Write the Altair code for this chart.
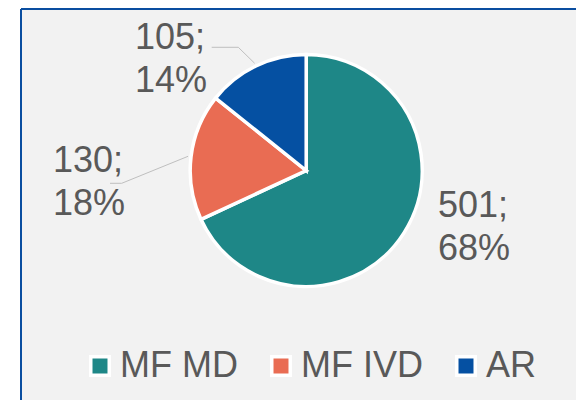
import math
import altair as alt
import pandas as pd

# ---- data ----
categories = ["MF MD", "MF IVD", "AR"]
values = [501, 130, 105]
colors = ["#1E8787", "#E96C53", "#0550A2"]

# ---- layout / style ----
PAD_L, PAD_T = 13, 1
W, H = 555, 391
CX, CY = 285.2, 161.5          # pie centre inside the view
R = 116                        # pie radius
LR = 130                       # label anchor radius
FONT = "Liberation Sans"
TXT = "#595959"
FS = 36
BORDER = "#0A4EA0"

df = pd.DataFrame({"category": categories, "value": values, "order": list(range(len(values)))})

# leader lines: start on the slice's mid-angle just outside the pie, then elbow + end
total = sum(values)
cum = 0
mids = {}
for c, v in zip(categories, values):
    mids[c] = 2 * math.pi * (cum + v / 2) / total
    cum += v
LEADER_OFFS = {"AR": [(-67.9, -123.2), (-94.5, -123.2)],
               "MF IVD": [(-184.5, 12.8), (-196.2, 12.8)]}
rows = []
for c, pts in LEADER_OFFS.items():
    a = mids[c]
    rows.append({"category": c, "step": 0, "x": CX + 119 * math.sin(a), "y": CY - 119 * math.cos(a)})
    for i, (ox, oy) in enumerate(pts):
        rows.append({"category": c, "step": i + 1, "x": CX + ox, "y": CY + oy})
leader_df = pd.DataFrame(rows)

base = alt.Chart(df)

pie = base.mark_arc(outerRadius=R, stroke="white", strokeWidth=3.5).encode(
    theta=alt.Theta("value:Q", stack=True),
    color=alt.Color(
        "category:N",
        scale=alt.Scale(domain=categories, range=colors),
        legend=alt.Legend(
            orient="none", legendX=61, legendY=339, direction="horizontal", title=None,
            symbolType="square", symbolSize=342, symbolStrokeColor="white",
            symbolStrokeWidth=3.5, symbolOpacity=1, labelFontSize=FS, labelFont=FONT,
            labelColor=TXT, labelOffset=2, columnPadding=25, padding=0, labelLimit=0,
        ),
    ),
    order=alt.Order("order:Q"),
    x=alt.value(CX),
    y=alt.value(CY),
)

lab_base = base.transform_window(
    cum="sum(value)", sort=[alt.SortField("order")]
).transform_joinaggregate(total="sum(value)").transform_calculate(
    ang="2*PI*(datum.cum - datum.value/2)/datum.total",
    px=f"{CX} + {LR}*sin(datum.ang)",
    py=f"{CY} - {LR}*cos(datum.ang)",
    label="datum.value + ';\\n' + format(datum.value/datum.total, '.0%')",
)

nudges = {"MF MD": (22.2, -23.3), "MF IVD": (-124.1, 16.9), "AR": (-114.9, -4.3)}
texts = []
for c, (ddx, ddy) in nudges.items():
    texts.append(
        lab_base.transform_filter(alt.datum.category == c).mark_text(
            align="left", baseline="alphabetic", dx=ddx, dy=ddy, lineBreak="\n",
            lineHeight=43, fontSize=FS, font=FONT, color=TXT,
        ).encode(
            x=alt.X("px:Q", scale=None, axis=None),
            y=alt.Y("py:Q", scale=None, axis=None),
            text="label:N",
        )
    )

leaders = alt.Chart(leader_df).mark_line(color="#BFBFBF", strokeWidth=1).encode(
    x=alt.X("x:Q", scale=None, axis=None),
    y=alt.Y("y:Q", scale=None, axis=None),
    detail="category:N",
    order="step:Q",
)

# frame: left and top edges only (the right/bottom edges lie outside the crop)
left_edge = base.mark_rule(color=BORDER, strokeWidth=2).encode(
    x=alt.value(0), y=alt.value(0), y2=alt.value(H)
)
top_edge = base.mark_rule(color=BORDER, strokeWidth=2).encode(
    x=alt.value(0), x2=alt.value(W), y=alt.value(0)
)

chart = alt.layer(leaders, pie, *texts, left_edge, top_edge).properties(
    width=W, height=H,
    padding={"left": PAD_L, "top": PAD_T, "right": 0, "bottom": 0},
    autosize=alt.AutoSizeParams(type="none"),
    background="white",
).configure_view(fill="#F2F2F2", stroke=None)

chart.save("out.html", embed_options={"renderer": "svg", "actions": False})
